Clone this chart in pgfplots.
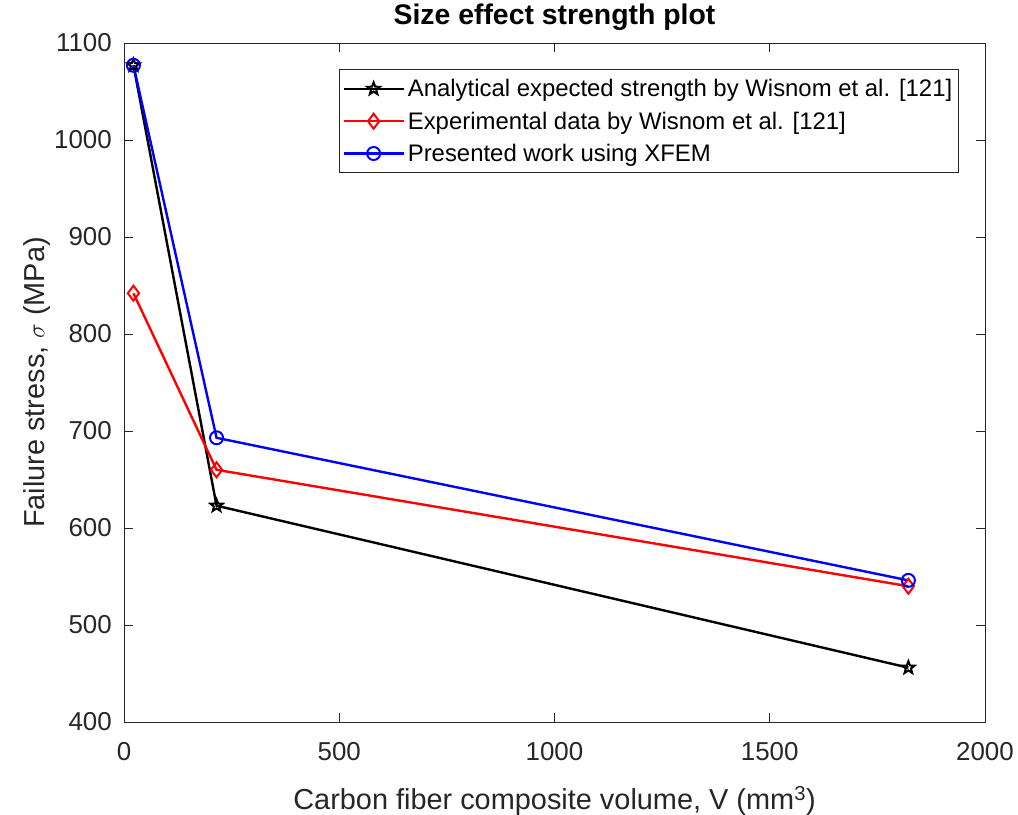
\documentclass[border=0pt]{standalone}
\usepackage{fontspec}
\setmainfont{Liberation Sans}
\usepackage{pgfplots}
\pgfplotsset{compat=1.18}
\definecolor{axgray}{rgb}{0.15,0.15,0.15}
\definecolor{mred}{rgb}{1,0,0}
\definecolor{mblue}{rgb}{0,0,1}
\pgfdeclareplotmark{pentagram}{%
  \pgfpathmoveto{\pgfpointpolar{90}{\pgfplotmarksize}}%
  \pgfpathlineto{\pgfpointpolar{126}{0.42\pgfplotmarksize}}%
  \pgfpathlineto{\pgfpointpolar{162}{\pgfplotmarksize}}%
  \pgfpathlineto{\pgfpointpolar{198}{0.42\pgfplotmarksize}}%
  \pgfpathlineto{\pgfpointpolar{234}{\pgfplotmarksize}}%
  \pgfpathlineto{\pgfpointpolar{270}{0.42\pgfplotmarksize}}%
  \pgfpathlineto{\pgfpointpolar{306}{\pgfplotmarksize}}%
  \pgfpathlineto{\pgfpointpolar{342}{0.42\pgfplotmarksize}}%
  \pgfpathlineto{\pgfpointpolar{18}{\pgfplotmarksize}}%
  \pgfpathlineto{\pgfpointpolar{54}{0.42\pgfplotmarksize}}%
  \pgfpathclose
  \pgfusepathqstroke
}
\begin{document}
\begin{tikzpicture}
\begin{axis}[
  scale only axis,
  width=861bp, height=679bp,
  xmin=0, xmax=2000, ymin=400, ymax=1100,
  xtick={0,500,1000,1500,2000},
  ytick={400,500,600,700,800,900,1000,1100},
  /pgf/number format/1000 sep={},
  /pgf/number format/assume math mode=true,
  tick align=inside,
  major tick length=9bp,
  axis line style={axgray, line width=0.9bp},
  every tick/.style={axgray, line width=0.9bp},
  ticklabel style={font=\fontsize{26}{30}\selectfont, text=axgray},
  xticklabel style={inner sep=0pt, anchor=north, yshift=-20bp},
  yticklabel style={inner sep=0pt, anchor=east, xshift=-12bp},
  xlabel={Carbon fiber composite volume, V (mm\textsuperscript{3})},
  ylabel={Failure stress, $\sigma$ (MPa)},
  label style={font=\fontsize{29}{33}\selectfont, text=axgray},
  xlabel style={at={(axis description cs:0.5,0)}, anchor=base, yshift=-87bp, inner sep=0pt},
  ylabel style={at={(axis description cs:0,0.5)}, anchor=center, yshift=87bp, inner sep=0pt},
  title={\textbf{Size effect strength plot}},
  title style={font=\fontsize{28.5}{32}\selectfont, at={(axis description cs:0.5,1)}, anchor=base, yshift=13bp, inner sep=0pt},
  legend cell align=left,
  legend style={at={(0.9695,0.9617)}, anchor=north east, draw=axgray, line width=0.9bp,
    fill=white, font=\fontsize{24}{28}\selectfont, inner xsep=3bp, inner ysep=7bp,
    row sep=7.5bp,
    nodes={inner sep=3bp, text=black}},
  legend image code/.code={%
    \draw[mark repeat=2, mark phase=2, line width=2.4bp] plot coordinates {(0bp,0bp) (30bp,0bp) (60bp,0bp)};},
]
\addplot[black, line width=2.4bp, mark=pentagram, mark size=6.5bp, mark options={line width=2bp}]
  coordinates {(22,1077) (215,623) (1822,456)};
\addlegendentry{Analytical expected strength by Wisnom et al. [121]}
\addplot[mred, line width=2.4bp, mark=diamond, mark size=7.5bp, mark options={line width=2bp}]
  coordinates {(22,842) (215,660) (1822,540)};
\addlegendentry{Experimental data by Wisnom et al. [121]}
\addplot[mblue, line width=2.4bp, mark=o, mark size=6.5bp, mark options={line width=2bp}]
  coordinates {(22,1077) (215,693) (1822,546)};
\addlegendentry{Presented work using XFEM}
\end{axis}
\path (current axis.south west) ++(-124bp,-93bp) coordinate (bbsw);
\path (current axis.north east) ++(33bp,43bp) coordinate (bbne);
\useasboundingbox (bbsw) rectangle (bbne);
\end{tikzpicture}
\end{document}
